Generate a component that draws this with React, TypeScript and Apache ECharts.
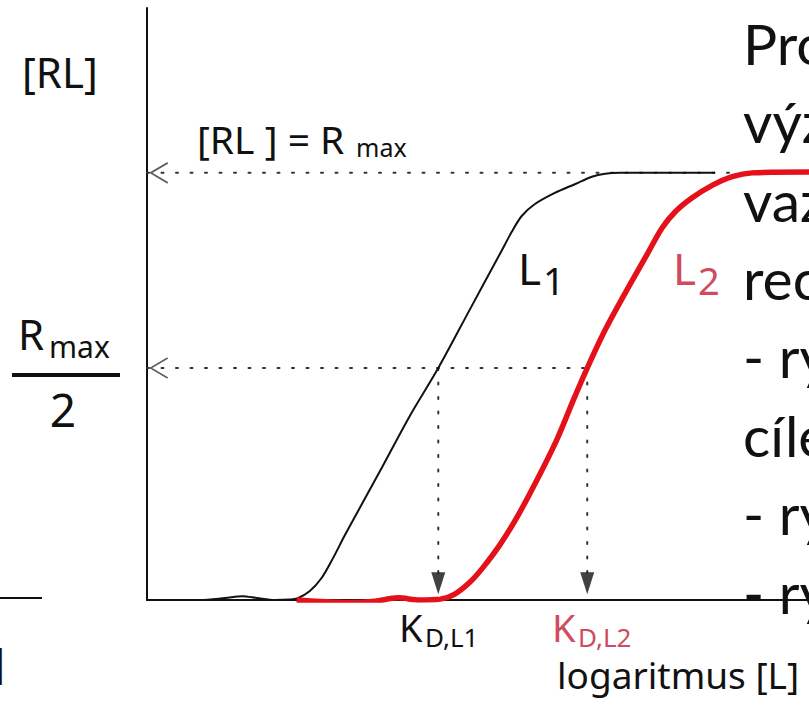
import React, { useEffect, useRef } from "react";
import * as echarts from "echarts";

// ---- data (x: logaritmus [L], arbitrary units 0..100; y: [RL] in % of Rmax) ----
const curveL1: [number, number][] = [
  [0, 0], [8.0, 0], [11.8, 0.47], [14.4, 0.9], [16.6, 0.47], [19.3, 0], [21.5, 0.1],
  [22.7, 0.35], [24.6, 2.1], [26.4, 5.2], [28.1, 9.8], [29.9, 15.2], [35.2, 30.2],
  [39.7, 43.1], [44.0, 54.3], [48.8, 68.1], [53.3, 81.0], [55.1, 86.2], [56.6, 89.9],
  [58.6, 92.7], [61.6, 95.3], [64.7, 97.4], [67.2, 99.1], [69.2, 99.8], [71.5, 100],
  [85.8, 100],
];
const curveL2: [number, number][] = [
  [22.6, 0], [26.1, -0.35], [30.7, -0.6], [34.4, -0.3], [37.9, 0.5], [41.2, 0],
  [44.3, 0.2], [46.5, 1.4], [48.8, 4.2], [50.8, 7.7], [53.3, 12.9], [55.9, 19.4],
  [58.9, 28.1], [61.9, 37.5], [64.4, 46.8], [66.5, 54.3], [69.2, 63.2], [72.5, 72.6],
  [75.5, 80.8], [77.8, 87.1], [79.8, 90.9], [82.3, 94.1], [85.3, 97.0], [88.4, 99.1],
  [91.4, 100], [100, 100.2],
];
const RMAX = 100;
const HALF = 54.3;
const KD_L1 = 44.0;
const KD_L2 = 66.5;
const GUIDE_END = 89.3;
const ARROW_Y = 3.9;
const Y_MAX = 138.6;

// ---- texts ----
const yAxisName = "[RL]";
const plateauText = ["[RL ] = R", "max"];
const halfText = ["R", "max", "2"];
const curveNames = [["L", "1"], ["L", "2"]];
const kdNames = [["K", "D,L1"], ["K", "D,L2"]];
const xAxisName = "logaritmus [L]";
const sideLines = ["Pro", "výz", "vaz", "rec", "- ry", "cíle", "- ry", "- ry"];

const DIAG_FONT = "'Noto Sans', 'Open Sans', sans-serif";
const SLIDE_FONT = "Lato, 'Noto Sans', sans-serif";
const BLACK = "#111111";
const RED = "#e4101a";
const PINK = "#cf4c5f";
const DOT = "#333333";

function txt(text: string, x: number, baseline: number, size: number, opts: any = {}) {
  return {
    type: "text",
    x,
    y: baseline - 0.39 * size,
    z: 10,
    style: {
      text,
      fontSize: size,
      fontFamily: opts.family ?? DIAG_FONT,
      fill: opts.fill ?? BLACK,
      align: opts.align ?? "left",
      verticalAlign: "middle",
    },
  };
}

export default function App() {
  const ref = useRef<HTMLDivElement>(null);
  useEffect(() => {
    if (!ref.current) return;
    const chart = echarts.init(ref.current, null, { renderer: "svg" });
    const dotted = { color: DOT, width: 2, type: [2, 12.5] as any, cap: "round" as any };
    const graphic: any[] = [
      txt(yAxisName, 22, 88, 42),
      txt(plateauText[0], 197, 154, 39),
      txt(plateauText[1], 356, 157, 25),
      txt(halfText[0], 18, 350, 42),
      txt(halfText[1], 49, 358, 30),
      txt(halfText[2], 63, 427, 46, { align: "center" }),
      {
        type: "line",
        shape: { x1: 12, y1: 375, x2: 120, y2: 375 },
        style: { stroke: BLACK, lineWidth: 4 },
      },
      txt(curveNames[0][0], 518, 285, 44),
      txt(curveNames[0][1], 543, 295, 38),
      txt(curveNames[1][0], 673, 285, 44, { fill: PINK }),
      txt(curveNames[1][1], 698, 295, 38, { fill: PINK }),
      txt(kdNames[0][0], 399, 642, 38),
      txt(kdNames[0][1], 425, 647, 26),
      txt(kdNames[1][0], 552, 642, 38, { fill: PINK }),
      txt(kdNames[1][1], 578, 647, 26, { fill: PINK }),
      txt(xAxisName, 557, 689, 37),
      {
        type: "line",
        shape: { x1: 0, y1: 598, x2: 42, y2: 598 },
        style: { stroke: BLACK, lineWidth: 2 },
      },
      txt("]", 5, 678, 42, { align: "right" }),
      ...sideLines.map((s, i) => txt(s, 743, 65 + 78.4 * i, 57, { family: SLIDE_FONT })),
    ];
    chart.setOption({
      animation: false,
      backgroundColor: "#ffffff",
      grid: { left: 147, right: 0, top: 8, bottom: 107, containLabel: false },
      xAxis: {
        type: "value",
        min: 0,
        max: 100,
        axisLine: { show: true, lineStyle: { color: BLACK, width: 2 } },
        axisTick: { show: false },
        axisLabel: { show: false },
        splitLine: { show: false },
      },
      yAxis: {
        type: "value",
        min: 0,
        max: Y_MAX,
        axisLine: { show: true, lineStyle: { color: BLACK, width: 2 } },
        axisTick: { show: false },
        axisLabel: { show: false },
        splitLine: { show: false },
      },
      series: [
        {
          type: "line",
          data: [[0, RMAX], [GUIDE_END, RMAX]],
          symbol: "none",
          lineStyle: dotted,
          z: 1,
        },
        {
          type: "line",
          data: [[0, HALF], [KD_L2, HALF]],
          symbol: "none",
          lineStyle: dotted,
          z: 1,
        },
        {
          type: "line",
          data: [[KD_L1, HALF], [KD_L1, ARROW_Y + 2.5]],
          symbol: "none",
          lineStyle: dotted,
          z: 1,
        },
        {
          type: "line",
          data: [[KD_L2, HALF], [KD_L2, ARROW_Y + 2.5]],
          symbol: "none",
          lineStyle: dotted,
          z: 1,
        },
        {
          type: "scatter",
          data: [[KD_L1, ARROW_Y], [KD_L2, ARROW_Y]],
          symbol: "triangle",
          symbolRotate: 180,
          symbolSize: [14, 22],
          itemStyle: { color: BLACK },
          z: 3,
        },
        {
          type: "scatter",
          data: [[0.56, RMAX], [0.56, HALF]],
          symbol: "path://M17,0 L0,10 L17,20",
          symbolSize: [17, 20],
          symbolOffset: [8.5, 0],
          itemStyle: { color: "none", borderColor: DOT, borderWidth: 1.6 },
          z: 3,
        },
        {
          type: "line",
          data: curveL1,
          symbol: "none",
          smooth: 0.3,
          lineStyle: { color: BLACK, width: 2 },
          z: 4,
        },
        {
          type: "line",
          data: curveL2,
          symbol: "none",
          smooth: 0.3,
          lineStyle: { color: RED, width: 5.5 },
          z: 5,
        },
      ],
      graphic,
    });
    return () => chart.dispose();
  }, []);
  return (
    <div
      ref={ref}
      style={{ position: "absolute", left: 0, top: 0, width: 809, height: 707, background: "#fff" }}
    />
  );
}
